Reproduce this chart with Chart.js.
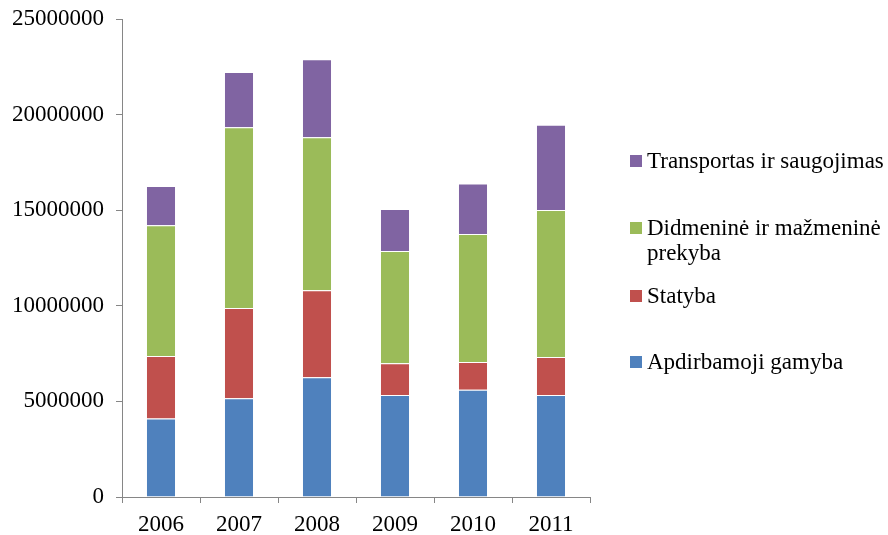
<!DOCTYPE html>
<html>
<head>
<meta charset="utf-8">
<script src="https://cdn.jsdelivr.net/npm/chart.js@4.4.0/dist/chart.umd.min.js"></script>
<style>
    body { margin: 0; background: #fff; }
    #wrap { position: relative; width: 888px; height: 535px; }
    #legenda { position: absolute; left: 0; top: 0; font-family: "Liberation Serif", "Times New Roman", serif; font-size: 23px; color: #000; }
    .voce { position: absolute; left: 630px; white-space: nowrap; line-height: 25px; }
    .voce span.box { position: absolute; left: 0; width: 12px; height: 12px; }
    .voce span.testo { position: absolute; left: 17px; top: 0; }
</style>
</head>
<body>
<div id="wrap">
    <canvas id="statistiche" width="888" height="535"></canvas>
    <div id="legenda"></div>
</div>
<script>
var anni = ['2006', '2007', '2008', '2009', '2010', '2011']
var apdirbamoji = [4100000, 5160000, 6260000, 5330000, 5610000, 5330000]
var statyba = [3270000, 4720000, 4550000, 1660000, 1450000, 1990000]
var prekyba = [6840000, 9460000, 8000000, 5880000, 6700000, 7690000]
var transportas = [2060000, 2890000, 4080000, 2190000, 2630000, 4460000]
var nomi = ['Apdirbamoji gamyba', 'Statyba', 'Didmeninė ir mažmeninė\nprekyba', 'Transportas ir saugojimas']
var colori = ['#4F81BD', '#C0504D', '#9BBB59', '#8064A2']
var yMax = 25000000
var yStep = 5000000

var serie = [apdirbamoji, statyba, prekyba, transportas]
var grigio = '#868686'
var carattere = { family: '"Liberation Serif", "Times New Roman", serif', size: 23 }

var datasets = []
serie.forEach((valori, i) => {
    datasets.push({
        label: nomi[i],
        data: valori,
        backgroundColor: colori[i],
        borderColor: 'rgba(255, 255, 255, 0.55)',
        borderWidth: 1,
        categoryPercentage: 1,
        barPercentage: 0.385
    })
})

var myChart = new Chart(document.getElementById('statistiche'), {
    type: 'bar',
    data: {
        labels: anni,
        datasets: datasets
    },
    options: {
        responsive: false,
        animation: false,
        devicePixelRatio: 1,
        layout: {
            padding: { top: 19, right: 298, bottom: 0, left: 0 }
        },
        scales: {
            x: {
                stacked: true,
                afterFit(scale) {
                    scale.height = 38
                    scale.paddingLeft = 0
                    scale.paddingRight = 0
                },
                grid: {
                    drawOnChartArea: false,
                    drawTicks: true,
                    tickLength: 6,
                    color: grigio,
                    offset: true
                },
                border: { color: grigio, width: 1 },
                ticks: { color: '#000', font: carattere, padding: 8 }
            },
            y: {
                stacked: true,
                min: 0,
                max: yMax,
                afterFit(scale) {
                    scale.width = 122
                    scale.paddingTop = 0
                    scale.paddingBottom = 0
                },
                grid: {
                    drawOnChartArea: false,
                    drawTicks: true,
                    tickLength: 6,
                    color: grigio
                },
                border: { color: grigio, width: 1 },
                ticks: {
                    stepSize: yStep,
                    color: '#000',
                    font: carattere,
                    padding: 12,
                    callback: (v) => String(v)
                }
            }
        },
        plugins: {
            legend: { display: false },
            tooltip: { enabled: false }
        }
    }
})

// legenda a destra, in ordine inverso come nell'originale
var posizioni = [362, 296, 228, 161]
var legenda = document.getElementById('legenda')
for (var i = nomi.length - 1; i >= 0; i--) {
    var voce = document.createElement('div')
    voce.className = 'voce'
    voce.style.top = (posizioni[i] - 6) + 'px'
    var box = document.createElement('span')
    box.className = 'box'
    box.style.background = colori[i]
    box.style.top = '0px'
    var testo = document.createElement('span')
    testo.className = 'testo'
    testo.style.top = '-7px'
    testo.innerHTML = nomi[i].replace('\n', '<br>')
    voce.appendChild(box)
    voce.appendChild(testo)
    legenda.appendChild(voce)
}
</script>
</body>
</html>
